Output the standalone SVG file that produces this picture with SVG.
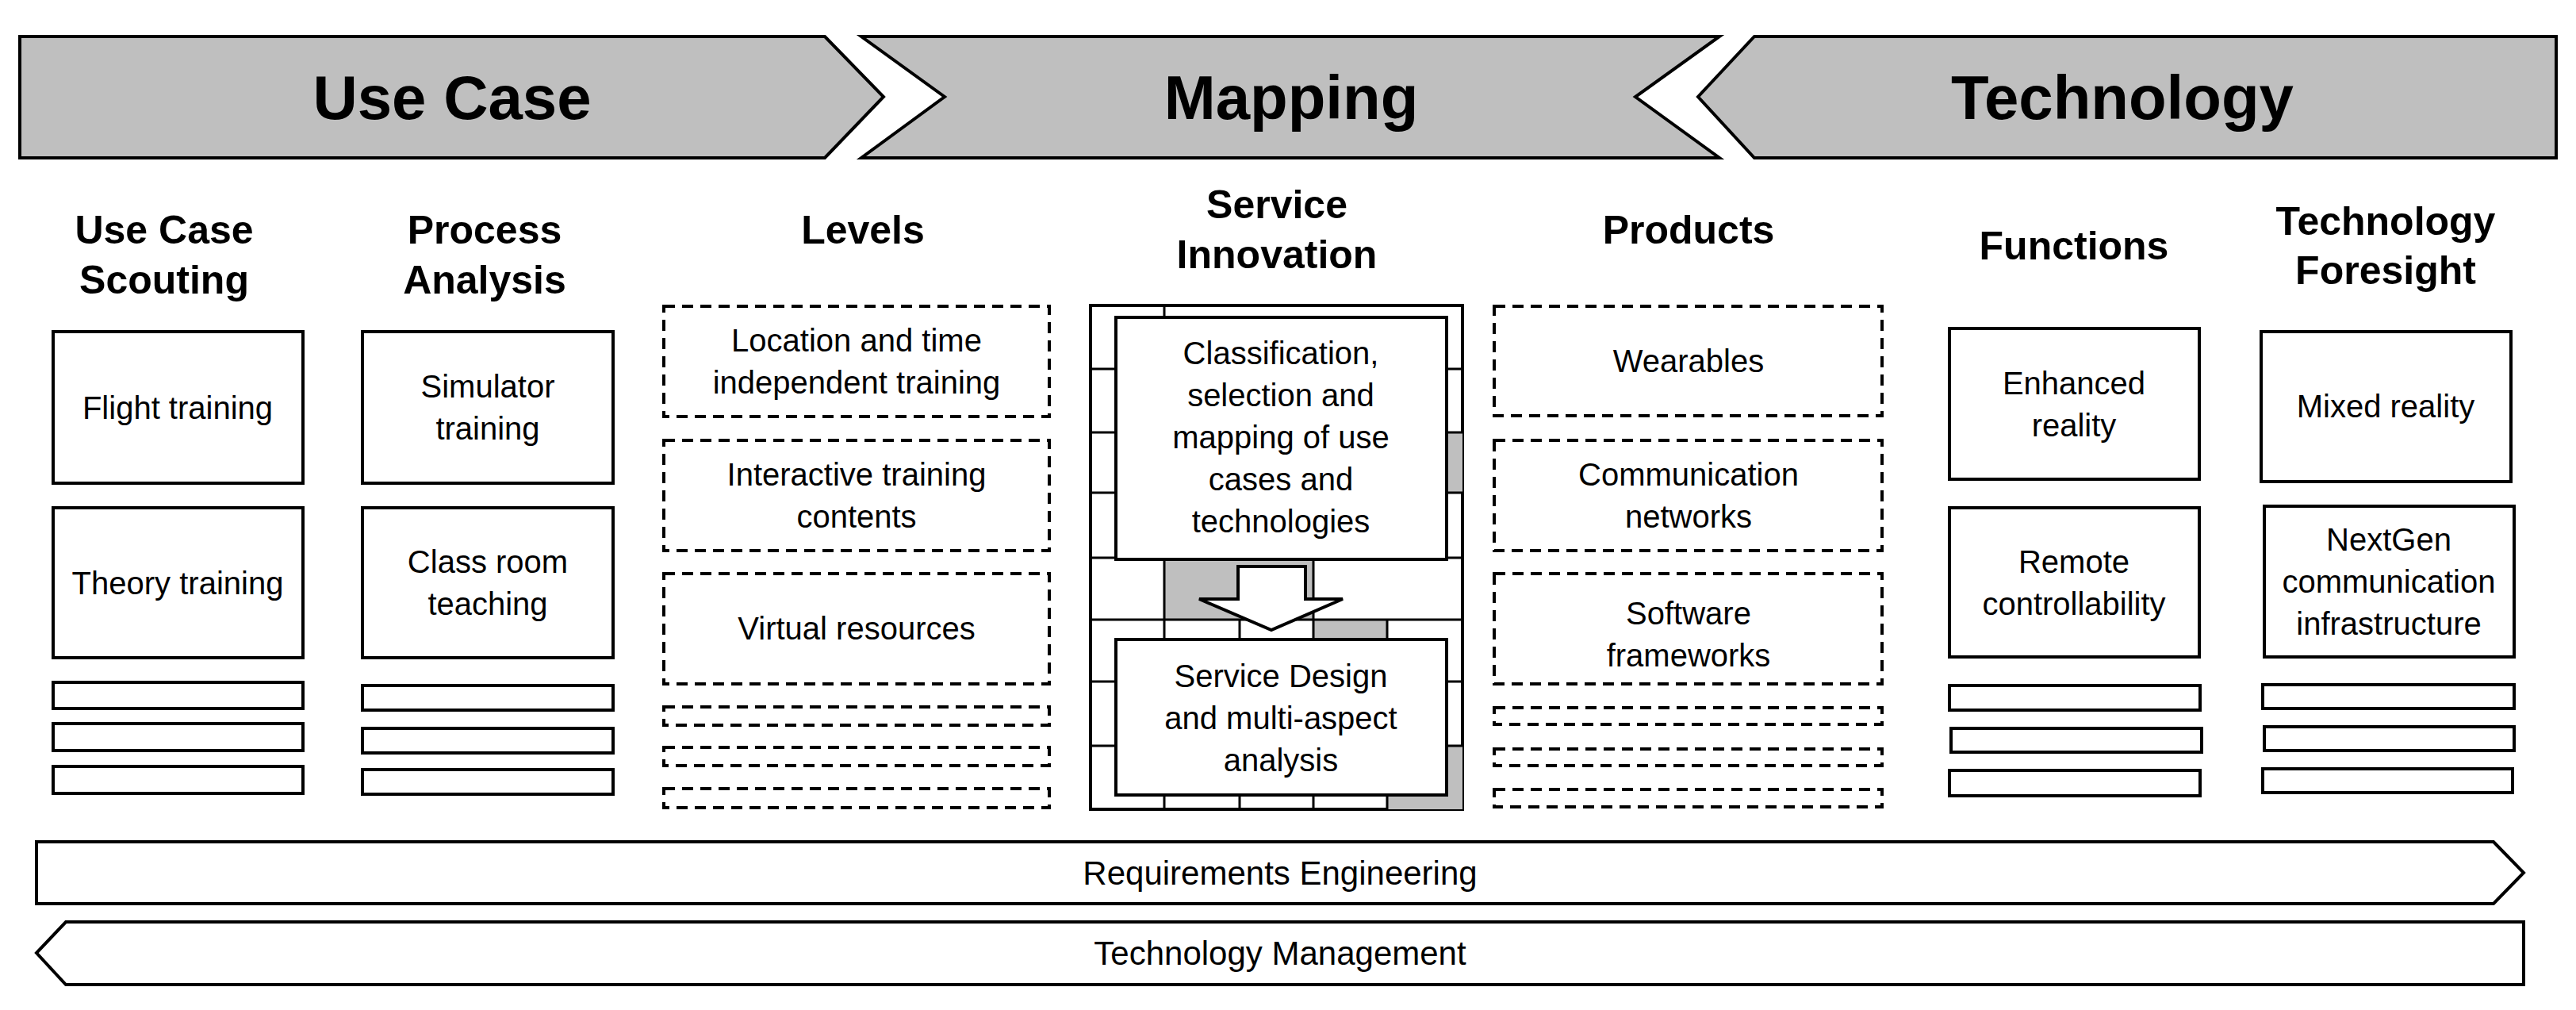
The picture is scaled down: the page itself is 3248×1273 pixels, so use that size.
<svg xmlns="http://www.w3.org/2000/svg" width="3248" height="1273" viewBox="0 0 3248 1273">
<style>
text{font-family:"Liberation Sans",Arial,sans-serif;fill:#000;text-anchor:middle}
.ban{font-size:78px;font-weight:bold}
.hd{font-size:50px;font-weight:bold}
.t{font-size:40px}
.b{font-size:42px}
.box{fill:#fff;stroke:#000;stroke-width:4}
.dash{fill:#fff;stroke:#000;stroke-width:4;stroke-dasharray:14 9}
.grey{fill:#bfbfbf;stroke:#000;stroke-width:4}
.ln{stroke:#000;stroke-width:3;fill:none}
.g{fill:#bfbfbf;stroke:none}
</style>
<rect width="3248" height="1273" fill="#fff"/>
<g id="banners">
<polygon class="grey" points="25,46 1040,46 1114,122 1040,199 25,199"/>
<text class="ban" x="570" y="150">Use Case</text>
<polygon class="grey" points="1086,46 2168,46 2062,122 2168,199 1086,199 1191,122"/>
<text class="ban" x="1628" y="150">Mapping</text>
<polygon class="grey" points="2212,46 3223,46 3223,199 2212,199 2141,122"/>
<text class="ban" x="2676" y="150">Technology</text>
</g>
<g id="headers">
<text class="hd" x="207" y="307">Use Case</text><text class="hd" x="207" y="370">Scouting</text>
<text class="hd" x="611" y="307">Process</text><text class="hd" x="611" y="370">Analysis</text>
<text class="hd" x="1088" y="307">Levels</text>
<text class="hd" x="1610" y="275">Service</text><text class="hd" x="1610" y="338">Innovation</text>
<text class="hd" x="2129" y="307">Products</text>
<text class="hd" x="2615" y="327">Functions</text>
<text class="hd" x="3008" y="296">Technology</text><text class="hd" x="3008" y="358">Foresight</text>
</g>
<g id="col-usecase">
<rect class="box" x="67" y="418" width="315" height="191"/><text class="t" x="224" y="528">Flight training</text>
<rect class="box" x="67" y="640" width="315" height="189"/><text class="t" x="224" y="749">Theory training</text>
<rect class="box" x="67" y="860" width="315" height="33"/>
<rect class="box" x="67" y="912" width="315" height="34"/>
<rect class="box" x="67" y="966" width="315" height="34"/>
</g>
<g id="col-process">
<rect class="box" x="457" y="418" width="316" height="191"/><text class="t" x="615" y="501">Simulator</text><text class="t" x="615" y="554">training</text>
<rect class="box" x="457" y="640" width="316" height="189"/><text class="t" x="615" y="722">Class room</text><text class="t" x="615" y="775">teaching</text>
<rect class="box" x="457" y="864" width="316" height="31"/>
<rect class="box" x="457" y="918" width="316" height="31"/>
<rect class="box" x="457" y="970" width="316" height="31"/>
</g>
<g id="col-levels">
<rect class="dash" x="837" y="386" width="486" height="139"/><text class="t" x="1080" y="443">Location and time</text><text class="t" x="1080" y="496">independent training</text>
<rect class="dash" x="837" y="555" width="486" height="139"/><text class="t" x="1080" y="612">Interactive training</text><text class="t" x="1080" y="665">contents</text>
<rect class="dash" x="837" y="723" width="486" height="139"/><text class="t" x="1080" y="806">Virtual resources</text>
<rect class="dash" x="837" y="891" width="486" height="23"/>
<rect class="dash" x="837" y="942" width="486" height="23"/>
<rect class="dash" x="837" y="994" width="486" height="24"/>
</g>
<g id="col-service">
<rect x="1375" y="385" width="469" height="635" fill="#fff" stroke="#000" stroke-width="4"/>
<rect class="g" x="1468" y="703" width="188" height="78"/>
<rect class="g" x="1656" y="781" width="93" height="25"/>
<rect class="g" x="1824" y="545" width="20" height="76"/>
<rect class="g" x="1749" y="940" width="95" height="80"/>
<path class="ln" d="M1375,465H1844M1375,545H1844M1375,621H1844M1375,703H1844M1375,781H1844M1375,859H1844M1375,940H1844M1468,385V400M1468,703V806M1656,703V806M1563,781V806M1749,781V806M1468,1002V1020M1563,1002V1020M1656,1002V1020M1749,1002V1020M1824,545V621M1749,940V1020"/>
<rect class="box" x="1407" y="400" width="417" height="305"/>
<text class="t" x="1615" y="459">Classification,</text>
<text class="t" x="1615" y="512">selection and</text>
<text class="t" x="1615" y="565">mapping of use</text>
<text class="t" x="1615" y="618">cases and</text>
<text class="t" x="1615" y="671">technologies</text>
<polygon points="1561,714 1646,714 1646,755 1693,755 1603,794 1512,755 1561,755" fill="#fff" stroke="#000" stroke-width="4"/>
<rect class="box" x="1407" y="806" width="417" height="196"/>
<text class="t" x="1615" y="866">Service Design</text>
<text class="t" x="1615" y="919">and multi-aspect</text>
<text class="t" x="1615" y="972">analysis</text>
</g>
<g id="col-products">
<rect class="dash" x="1884" y="386" width="489" height="138"/><text class="t" x="2129" y="469">Wearables</text>
<rect class="dash" x="1884" y="555" width="489" height="139"/><text class="t" x="2129" y="612">Communication</text><text class="t" x="2129" y="665">networks</text>
<rect class="dash" x="1884" y="723" width="489" height="139"/><text class="t" x="2129" y="787">Software</text><text class="t" x="2129" y="840">frameworks</text>
<rect class="dash" x="1884" y="892" width="489" height="21"/>
<rect class="dash" x="1884" y="944" width="489" height="21"/>
<rect class="dash" x="1884" y="995" width="489" height="22"/>
</g>
<g id="col-functions">
<rect class="box" x="2458" y="414" width="315" height="190"/><text class="t" x="2615" y="497">Enhanced</text><text class="t" x="2615" y="550">reality</text>
<rect class="box" x="2458" y="640" width="315" height="188"/><text class="t" x="2615" y="722">Remote</text><text class="t" x="2615" y="775">controllability</text>
<rect class="box" x="2458" y="864" width="316" height="31"/>
<rect class="box" x="2460" y="918" width="316" height="30"/>
<rect class="box" x="2458" y="971" width="316" height="32"/>
</g>
<g id="col-foresight">
<rect class="box" x="2851" y="418" width="315" height="189"/><text class="t" x="3008" y="526">Mixed reality</text>
<rect class="box" x="2855" y="638" width="315" height="190"/><text class="t" x="3012" y="694">NextGen</text><text class="t" x="3012" y="747">communication</text><text class="t" x="3012" y="800">infrastructure</text>
<rect class="box" x="2853" y="863" width="317" height="30"/>
<rect class="box" x="2855" y="916" width="315" height="30"/>
<rect class="box" x="2853" y="969" width="315" height="30"/>
</g>
<g id="bottom">
<polygon class="box" points="46,1061 3144,1061 3182,1100 3144,1139 46,1139"/>
<text class="b" x="1614" y="1115">Requirements Engineering</text>
<polygon class="box" points="83,1162 3182,1162 3182,1241 83,1241 46,1201"/>
<text class="b" x="1614" y="1216">Technology Management</text>
</g>
</svg>
